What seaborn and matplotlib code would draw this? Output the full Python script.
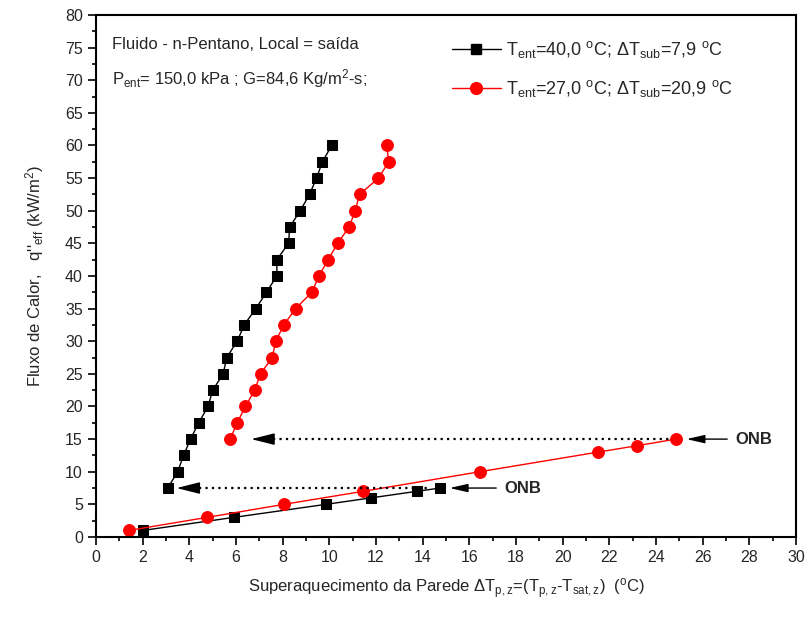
import numpy as np
import pandas as pd
import seaborn as sns
import matplotlib.pyplot as plt
from matplotlib.ticker import MultipleLocator
from matplotlib.lines import Line2D

# Black series (T_ent = 40,0 C): single-phase branch then boiling branch
black_sp_x = [2.0, 5.9, 9.85, 11.8, 13.75, 14.75]
black_sp_y = [1, 3, 5, 6, 7, 7.5]
black_bo_x = [3.07, 3.5, 3.75, 4.05, 4.4, 4.8, 5.0, 5.45, 5.6, 6.05, 6.35, 6.85,
              7.3, 7.75, 7.75, 8.25, 8.3, 8.75, 9.15, 9.45, 9.7, 10.1]
black_bo_y = [7.5, 10, 12.5, 15, 17.5, 20, 22.5, 25, 27.5, 30, 32.5, 35,
              37.5, 40, 42.5, 45, 47.5, 50, 52.5, 55, 57.5, 60]

# Red series (T_ent = 27,0 C)
red_sp_x = [1.4, 4.75, 8.05, 11.45, 16.45, 21.5, 23.2, 24.85]
red_sp_y = [1, 3, 5, 7, 10, 13, 14, 15]
red_bo_x = [5.75, 6.05, 6.4, 6.8, 7.05, 7.55, 7.7, 8.05, 8.55, 9.25, 9.55, 9.95,
            10.35, 10.85, 11.1, 11.3, 12.1, 12.55, 12.45]
red_bo_y = [15, 17.5, 20, 22.5, 25, 27.5, 30, 32.5, 35, 37.5, 40, 42.5,
            45, 47.5, 50, 52.5, 55, 57.5, 60]

labels = ['T$_{ent}$=40,0 $^{\\rm o}$C; $\\Delta$T$_{sub}$=7,9 $^{\\rm o}$C',
          'T$_{ent}$=27,0 $^{\\rm o}$C; $\\Delta$T$_{sub}$=20,9 $^{\\rm o}$C']

sns.set_theme(style='ticks')
plt.rcParams['font.family'] = ['Liberation Sans', 'DejaVu Sans']
plt.rcParams['mathtext.fontset'] = 'custom'
plt.rcParams['mathtext.rm'] = 'Liberation Sans'
plt.rcParams['mathtext.it'] = 'Liberation Sans'
plt.rcParams['mathtext.default'] = 'regular'

fig = plt.figure(figsize=(8.09, 6.19), dpi=100)
ax = fig.add_axes([0.1187, 0.1325, 0.8653, 0.8433])

blk = dict(color='black', marker='s', markersize=7.5, markeredgecolor='black',
           linewidth=1, sort=False, estimator=None, legend=False)
red = dict(color='red', marker='o', markersize=8.5, markeredgecolor='red',
           linewidth=1, sort=False, estimator=None, legend=False)
sns.lineplot(x=black_sp_x, y=black_sp_y, ax=ax, **blk)
sns.lineplot(x=black_bo_x, y=black_bo_y, ax=ax, **blk)
sns.lineplot(x=red_sp_x, y=red_sp_y, ax=ax, **red)
sns.lineplot(x=red_bo_x, y=red_bo_y, ax=ax, **red)

# dotted ONB jump arrows: dotted stem + solid head
head = dict(arrowstyle='-|>,head_length=1.44,head_width=0.36', color='black',
            linewidth=1, mutation_scale=10, shrinkA=0, shrinkB=0)
ax.plot([4.4, 14.3], [7.5, 7.5], color='black', linestyle=(0, (1, 1.9)), linewidth=1.6)
ax.annotate('', xy=(3.45, 7.5), xytext=(4.35, 7.5), arrowprops=head)
ax.plot([7.6, 24.6], [15, 15], color='black', linestyle=(0, (1, 1.9)), linewidth=1.6)
ax.annotate('', xy=(6.65, 15), xytext=(7.55, 15), arrowprops=head)

# ONB labels
onb = dict(arrowstyle='-|>,head_length=1.1,head_width=0.25', color='black',
           linewidth=1, mutation_scale=10, shrinkA=0, shrinkB=0)
ax.annotate('', xy=(15.15, 7.5), xytext=(17.15, 7.5), arrowprops=onb)
ax.annotate('', xy=(25.3, 15), xytext=(27.05, 15), arrowprops=onb)
ax.text(17.5, 7.5, 'ONB', fontsize=12, fontweight='bold', va='center', ha='left')
ax.text(27.4, 15, 'ONB', fontsize=12, fontweight='bold', va='center', ha='left')

ax.text(0.7, 75.5, 'Fluido - n-Pentano, Local = saída', fontsize=12, va='center')
ax.text(0.7, 70.2, 'P$_{ent}$= 150,0 kPa ; G=84,6 Kg/m$^{2}$-s;', fontsize=12, va='center')

handles = [Line2D([], [], color='black', marker='s', markersize=7.5, linewidth=1),
           Line2D([], [], color='red', marker='o', markersize=8.5, linewidth=1)]
ax.legend(handles, labels, loc='upper left', bbox_to_anchor=(0.485, 0.985),
          frameon=False, fontsize=13, handlelength=2.7, labelspacing=1.0,
          handletextpad=0.3)

ax.set_xlim(0, 30)
ax.set_ylim(0, 80)
ax.xaxis.set_major_locator(MultipleLocator(2))
ax.xaxis.set_minor_locator(MultipleLocator(1))
ax.yaxis.set_major_locator(MultipleLocator(5))
ax.yaxis.set_minor_locator(MultipleLocator(2.5))
ax.tick_params(which='major', length=6, width=1.2, labelsize=11.5, color='black')
ax.tick_params(which='minor', length=3, width=1.2, color='black')
for s in ax.spines.values():
    s.set_linewidth(1.5)
    s.set_color('black')

ax.set_xlabel('Superaquecimento da Parede $\\Delta$T$_{p,z}$=(T$_{p,z}$-T$_{sat,z}$)  ($^{\\rm o}$C)',
              fontsize=12, labelpad=8)
ax.set_ylabel("Fluxo de Calor,   q''$_{eff}$ (kW/m$^{2}$)", fontsize=12, labelpad=14)

fig.savefig('out.png', dpi=100)
